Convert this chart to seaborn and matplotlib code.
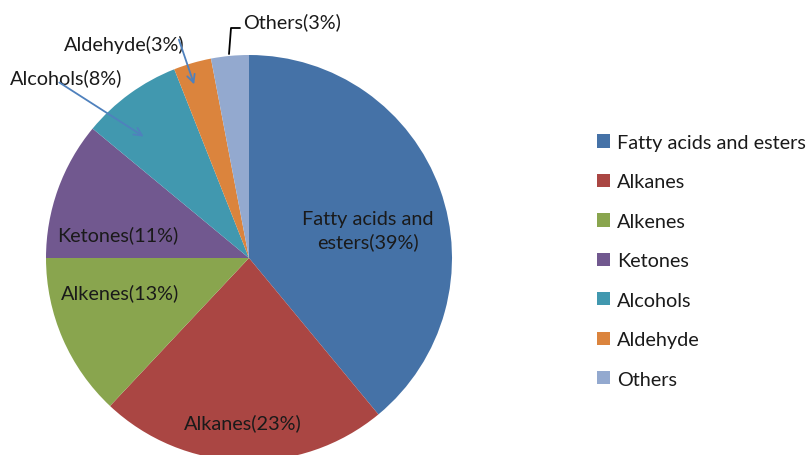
import matplotlib
matplotlib.use("Agg")
import matplotlib.pyplot as plt
import seaborn as sns

# data
categories = ["Fatty acids and esters", "Alkanes", "Alkenes", "Ketones",
              "Alcohols", "Aldehyde", "Others"]
shares = [39, 23, 13, 11, 8, 3, 3]
slice_labels = ["Fatty acids and\nesters(39%)", "Alkanes(23%)", "Alkenes(13%)",
                "Ketones(11%)", "Alcohols(8%)", "Aldehyde(3%)", "Others(3%)"]
colors = ["#4572A7", "#AA4643", "#89A54E", "#71588F", "#4198AF", "#DB843D", "#93A9CF"]

sns.set_theme(style="white")
plt.rcParams["font.family"] = ["Lato", "DejaVu Sans"]

W, H = 807, 456
CX, CY, R = 249, 259, 203


def px(x, y):
    # pixel position -> data coords of the pie axes
    return ((x - CX) / R, (CY - y) / R)


fig = plt.figure(figsize=(W / 100, H / 100), dpi=100)
ax = fig.add_axes([0, 0, 1, 1])
palette = sns.color_palette(colors)

wedges, _ = ax.pie(shares, colors=palette, startangle=90, counterclock=False,
                   radius=1, wedgeprops=dict(linewidth=0))
ax.set_xlim(-CX / R, (W - CX) / R)
ax.set_ylim(-(H - CY) / R, CY / R)
ax.set_aspect("equal")
ax.axis("off")

fs = 14.3
# labels inside the slices
inside = {0: (368, 231), 1: (243, 423), 2: (120, 293), 3: (118, 235)}
for i, (x, y) in inside.items():
    ax.text(*px(x, y), slice_labels[i], ha="center", va="center",
            fontsize=fs, color="#1a1a1a", linespacing=1.35)

# outside labels with arrows
ax.text(*px(10, 78), slice_labels[4], ha="left", va="center", fontsize=fs, color="#1a1a1a")
ax.text(*px(64, 45), slice_labels[5], ha="left", va="center", fontsize=fs, color="#1a1a1a")
ax.text(*px(243, 22), slice_labels[6], ha="left", va="center", fontsize=fs, color="#1a1a1a")

arrow = dict(arrowstyle="->", color="#4F81BD", lw=1.3, mutation_scale=14)
ax.annotate("", xy=px(146, 139), xytext=px(57, 82), arrowprops=arrow)
ax.annotate("", xy=px(195, 88), xytext=px(178, 38), arrowprops=arrow)
ax.plot(*zip(px(229, 55), px(231, 29), px(240, 29)), color="black", lw=1.3)

fig.legend(wedges, categories, loc="upper left", bbox_to_anchor=(597 / W, 1 - 135 / H),
           frameon=False, fontsize=fs, handlelength=0.65, handleheight=0.65,
           handletextpad=0.35, labelspacing=1.13, borderaxespad=0, borderpad=0,
           labelcolor="#1a1a1a")

fig.savefig("out.png", dpi=100)
